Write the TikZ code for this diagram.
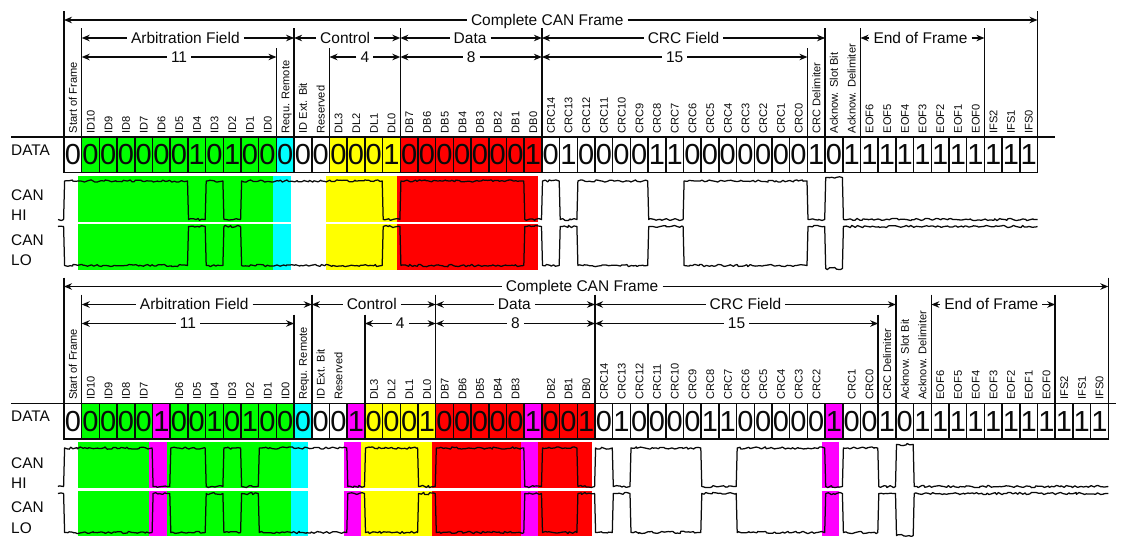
\documentclass[tikz,border=0pt]{standalone}
\usepackage{fontspec}
\setmainfont{Liberation Sans}
\usetikzlibrary{arrows.meta,decorations.pathmorphing}
\definecolor{bgreen}{RGB}{0,255,0}
\definecolor{bcyan}{RGB}{0,255,255}
\definecolor{byellow}{RGB}{255,255,0}
\definecolor{bred}{RGB}{255,0,0}
\definecolor{bmagenta}{RGB}{255,0,255}
\definecolor{inkc}{RGB}{10,10,10}
\tikzset{
  bitcell/.style={draw=inkc,line width=1.5pt,minimum width=17.7pt,minimum height=35.5pt,inner sep=0pt,text=inkc,font=\fontsize{29}{29}\selectfont},
  vlabel/.style={rotate=90,anchor=base west,inner sep=0pt,text=inkc,font=\fontsize{11.1}{12}\selectfont},
  dimlabel/.style={inner xsep=4pt,inner ysep=0pt,text height=12pt,text depth=2pt,text=inkc,font=\fontsize{15.5}{17}\selectfont},
  dimline/.style={draw=inkc,line width=1.3pt,-{Stealth[length=8pt,width=6.5pt]}},
  barline/.style={draw=inkc,line width=1.5pt},
  sidelabel/.style={anchor=base west,inner sep=0pt,text=inkc,font=\fontsize{15.4}{17}\selectfont},
  wavedraw/.style={draw=inkc,line width=1.25pt,line join=round,decoration={random steps,segment length=2.3pt,amplitude=1.15pt}}
}
% labelled dimension arrow: [label shift] name, y, first bit, last bit, text
\newcommand\dimarrow[6][0]{%
  \node[dimlabel] (#2) at ({64+17.7*(#4+#5)/2+#1},#3) {#6};
  \coordinate (#2a) at ({64+17.7*#4},#3);
  \coordinate (#2b) at ({64+17.7*#5},#3);
  \draw[dimline] (#2) -- (#2a);
  \draw[dimline] (#2) -- (#2b);
}
% vertical bar at a bit boundary
\newcommand\bitbar[3]{\draw[barline] ({64+17.7*#1},#2) -- ({64+17.7*#1},#3);}
% rotated labels: frame tag, baseline y, first index, list
\newcommand\vlabels[4]{%
  \foreach \t [count=\i from #3] in {#4} {
    \node[vlabel] (l#1-\i) at ({64+17.7*\i+8.85+4},#2) {\t};
  }
}
% row of cells: frame tag, centre y, list bit/colour
\newcommand\cellrow[3]{%
  \foreach \b/\c [count=\i from 0] in {#3} {
    \node[bitcell,fill=\c] (c#1-\i) at ({64+17.7*\i+8.85},#2) {\raisebox{-1pt}{\b}};
  }
}
% colour band: colour, first bit, end bit, y0, y1
\newcommand\band[5]{\fill[#1] ({64+17.7*#2-3.5},#4) rectangle ({64+17.7*#3-3.5},#5);}
% waveform: dominant y, recessive y, ack y, end bit, list of bit/level
\newcommand\wave[5]{%
  \xdef\wvpath{(58,#2)}%
  \xdef\wvprev{#2}%
  \foreach \i/\k in {#5} {
    \pgfmathsetmacro\xa{64+17.7*\i-0.4}
    \pgfmathsetmacro\xb{\xa+1.0}
    \ifcase\k \edef\ly{#1}\or \edef\ly{#2}\or \edef\ly{#3}\fi
    \xdef\wvpath{\wvpath\space decorate {-- (\xa,\wvprev)} -- (\xb,\ly)}
    \xdef\wvprev{\ly}
  }
  \pgfmathsetmacro\xe{64+17.7*#4}
  \draw[wavedraw] \wvpath\space decorate {-- (\xe,\wvprev)};
}
\begin{document}
\begin{tikzpicture}[x=1pt,y=-1pt]
\pgfmathsetseed{4711}
\fill[white] (0,0) rectangle (1122,536);
\useasboundingbox (0,0) rectangle (1122,536);

%%% TOP FRAME
\foreach \ya/\yb in {176/221.5,224/270} {
  \band{bgreen}{1}{12}{\ya}{\yb}
  \band{bcyan}{12}{13}{\ya}{\yb}
  \band{byellow}{15}{19}{\ya}{\yb}
  \band{bred}{19}{27}{\ya}{\yb}
}
\wave{181}{219.5}{177.5}{55}{0/0,7/1,8/0,9/1,10/0,18/1,19/0,26/1,27/0,28/1,29/0,33/1,35/0,42/1,43/2,44/1}
\wave{265.5}{226.5}{268.5}{55}{0/0,7/1,8/0,9/1,10/0,18/1,19/0,26/1,27/0,28/1,29/0,33/1,35/0,42/1,43/2,44/1}

\dimarrow[-3.5]{tfull}{20}{0}{55}{Complete CAN Frame}
\dimarrow[-2.5]{tarb}{38}{1}{13}{Arbitration Field}
\dimarrow[-2]{tctl}{38}{13}{19}{Control}
\dimarrow[-1]{tdat}{38}{19}{27}{Data}
\dimarrow{tcrc}{38}{27}{43}{CRC Field}
\dimarrow[-2]{teof}{38}{45}{52}{End of Frame}
\dimarrow{tn11}{57}{1}{12}{11}
\dimarrow{tn4}{57}{15}{19}{4}
\dimarrow{tn8}{57}{19}{27}{8}
\dimarrow{tn15}{57}{27}{42}{15}
\foreach \n in {0,55} {\bitbar{\n}{11}{137}}
\foreach \n in {1,13,19,27,43,45,52} {\bitbar{\n}{28}{137}}
\foreach \n in {12,15,42} {\bitbar{\n}{48}{137}}

\vlabels{t}{133.5}{0}{Start of Frame,ID10,ID9,ID8,ID7,ID6,ID5,ID4,ID3,ID2,ID1,ID0,Requ. Remote,ID Ext. Bit,Reserved,DL3,DL2,DL1,DL0,DB7,DB6,DB5,DB4,DB3,DB2,DB1,DB0,CRC14,CRC13,CRC12,CRC11,CRC10,CRC9,CRC8,CRC7,CRC6,CRC5,CRC4,CRC3,CRC2,CRC1,CRC0,CRC Delimiter,Acknow. Slot Bit,Acknow. Delimiter,EOF6,EOF5,EOF4,EOF3,EOF2,EOF1,EOF0,IFS2,IFS1,IFS0}

\draw[barline] (11,137) coordinate (thl) -- (1055,137) coordinate (thr);
\cellrow{t}{154.7}{0/white,0/bgreen,0/bgreen,0/bgreen,0/bgreen,0/bgreen,0/bgreen,1/bgreen,0/bgreen,1/bgreen,0/bgreen,0/bgreen,0/bcyan,0/white,0/white,0/byellow,0/byellow,0/byellow,1/byellow,0/bred,0/bred,0/bred,0/bred,0/bred,0/bred,0/bred,1/bred,0/white,1/white,0/white,0/white,0/white,0/white,1/white,1/white,0/white,0/white,0/white,0/white,0/white,0/white,0/white,1/white,0/white,1/white,1/white,1/white,1/white,1/white,1/white,1/white,1/white,1/white,1/white,1/white}

\node[sidelabel] (tdatal) at (11,155) {DATA};
\node[sidelabel] (tcan1) at (11,200.7) {CAN};
\node[sidelabel] (thi) at (11,220.7) {HI};
\node[sidelabel] (tcan2) at (11,245) {CAN};
\node[sidelabel] (tlo) at (11,265) {LO};

%%% BOTTOM FRAME
\foreach \ya/\yb in {442/488,491/536} {
  \band{bgreen}{1}{13}{\ya}{\yb}
  \band{bmagenta}{5}{6}{\ya}{\yb}
  \band{bcyan}{13}{14}{\ya}{\yb}
  \band{bmagenta}{16}{17}{\ya}{\yb}
  \band{byellow}{17}{21}{\ya}{\yb}
  \band{bred}{21}{30}{\ya}{\yb}
  \band{bmagenta}{26}{27}{\ya}{\yb}
  \band{bmagenta}{43}{44}{\ya}{\yb}
}
\wave{448}{486.5}{444.5}{59}{0/0,5/1,6/0,8/1,9/0,10/1,11/0,16/1,17/0,20/1,21/0,26/1,27/0,29/1,30/0,31/1,32/0,36/1,38/0,43/1,44/0,46/1,47/2,48/1}
\wave{532.5}{493.5}{535.5}{59}{0/0,5/1,6/0,8/1,9/0,10/1,11/0,16/1,17/0,20/1,21/0,26/1,27/0,29/1,30/0,31/1,32/0,36/1,38/0,43/1,44/0,46/1,47/2,48/1}

\dimarrow[-4]{bfull}{286.5}{0}{59}{Complete CAN Frame}
\dimarrow[-2.5]{barb}{304.5}{1}{14}{Arbitration Field}
\dimarrow[-2]{bctl}{304.5}{14}{21}{Control}
\dimarrow[-1]{bdat}{304.5}{21}{30}{Data}
\dimarrow{bcrc}{304.5}{30}{47}{CRC Field}
\dimarrow[-2]{beof}{304.5}{49}{56}{End of Frame}
\dimarrow{bn11}{323.5}{1}{13}{11}
\dimarrow{bn4}{323.5}{17}{21}{4}
\dimarrow{bn8}{323.5}{21}{30}{8}
\dimarrow{bn15}{323.5}{30}{46}{15}
\foreach \n in {0,59} {\bitbar{\n}{277.5}{403.5}}
\foreach \n in {1,14,21,30,47,49,56} {\bitbar{\n}{294.5}{403.5}}
\foreach \n in {13,17,46} {\bitbar{\n}{314.5}{403.5}}

\vlabels{b}{400}{0}{Start of Frame,ID10,ID9,ID8,ID7}
\vlabels{b}{400}{6}{ID6,ID5,ID4,ID3,ID2,ID1,ID0,Requ. Remote,ID Ext. Bit,Reserved}
\vlabels{b}{400}{17}{DL3,DL2,DL1,DL0,DB7,DB6,DB5,DB4,DB3}
\vlabels{b}{400}{27}{DB2,DB1,DB0,CRC14,CRC13,CRC12,CRC11,CRC10,CRC9,CRC8,CRC7,CRC6,CRC5,CRC4,CRC3,CRC2}
\vlabels{b}{400}{44}{CRC1,CRC0,CRC Delimiter,Acknow. Slot Bit,Acknow. Delimiter,EOF6,EOF5,EOF4,EOF3,EOF2,EOF1,EOF0,IFS2,IFS1,IFS0}

\draw[barline] (11,403.5) coordinate (bhl) -- (1116,403.5) coordinate (bhr);
\cellrow{b}{421.2}{0/white,0/bgreen,0/bgreen,0/bgreen,0/bgreen,1/bmagenta,0/bgreen,0/bgreen,1/bgreen,0/bgreen,1/bgreen,0/bgreen,0/bgreen,0/bcyan,0/white,0/white,1/bmagenta,0/byellow,0/byellow,0/byellow,1/byellow,0/bred,0/bred,0/bred,0/bred,0/bred,1/bmagenta,0/bred,0/bred,1/bred,0/white,1/white,0/white,0/white,0/white,0/white,1/white,1/white,0/white,0/white,0/white,0/white,0/white,1/bmagenta,0/white,0/white,1/white,0/white,1/white,1/white,1/white,1/white,1/white,1/white,1/white,1/white,1/white,1/white,1/white}

\node[sidelabel] (bdatal) at (11,421.7) {DATA};
\node[sidelabel] (bcan1) at (11,468) {CAN};
\node[sidelabel] (bhi) at (11,488) {HI};
\node[sidelabel] (bcan2) at (11,512.7) {CAN};
\node[sidelabel] (blo) at (11,533) {LO};
\end{tikzpicture}
\end{document}
